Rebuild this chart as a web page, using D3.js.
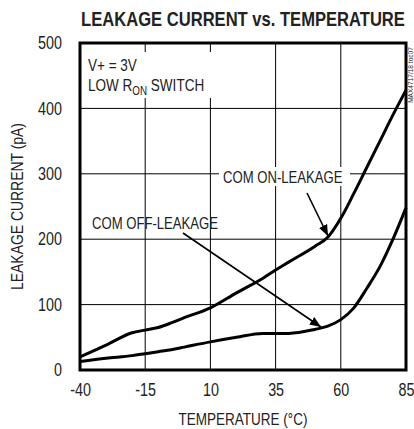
<!DOCTYPE html>
<html>
<head>
<meta charset="utf-8">
<script src="https://cdn.jsdelivr.net/npm/d3@7"></script>
<style>
  body { margin: 0; background: #fff; }
  svg text { font-family: 'Liberation Sans', Arial, sans-serif; fill: #222; }
</style>
</head>
<body>
<div id="chart"></div>
<script>
// data
var temps = [-40, -30, -20, -15, -10, -5, 0, 10, 20, 30, 35, 40, 50, 55, 60, 65, 70, 75, 80, 85];
var onLeak = [20, 38, 57, 61, 65, 72, 80, 95, 118, 140, 153, 165, 189, 203, 232, 270, 310, 350, 390, 428];
var offLeak = [13, 18, 22, 25, 28, 31, 35, 43, 50, 56, 56, 56, 62, 67, 77, 95, 125, 158, 200, 248];
var xTicks = [-40, -15, 10, 35, 60, 85];
var yTicks = [0, 100, 200, 300, 400, 500];

var margin = {top: 43, right: 8, bottom: 59, left: 80},
    width = 414 - margin.left - margin.right,
    height = 429 - margin.top - margin.bottom;

var NARROW = 0.82; // no condensed font installed, squeeze Liberation Sans instead

var svg = d3.select("#chart")
  .append("svg")
    .attr("width", 414)
    .attr("height", 429)
  .append("g")
    .attr("transform", "translate(" + margin.left + "," + margin.top + ")");

// text squeezed horizontally so it looks like a condensed face
function narrowText(px, py, size, str) {
  return svg.append("text")
    .attr("transform", "translate(" + px + "," + py + ") scale(" + NARROW + ",1)")
    .style("font-size", size + "px")
    .text(str);
}

var x = d3.scaleLinear().domain([-40, 85]).range([0, width]);
var y = d3.scaleLinear().domain([0, 500]).range([height, 0]);

// grid
svg.selectAll(".vgrid")
  .data(xTicks)
  .enter().append("line")
    .attr("x1", d => x(d)).attr("x2", d => x(d))
    .attr("y1", 0).attr("y2", height)
    .attr("stroke", "#000").attr("stroke-width", 1);
svg.selectAll(".hgrid")
  .data(yTicks)
  .enter().append("line")
    .attr("y1", d => y(d)).attr("y2", d => y(d))
    .attr("x1", 0).attr("x2", width)
    .attr("stroke", "#000").attr("stroke-width", 1);

// white label boxes covering the grid
svg.append("rect").attr("x", 3).attr("y", 9).attr("width", 128).attr("height", 46).attr("fill", "#fff");
svg.append("rect").attr("x", 139).attr("y", 124).attr("width", 131).attr("height", 19).attr("fill", "#fff");

// axes
var xAxis = svg.append("g")
  .attr("transform", "translate(0," + height + ")")
  .call(d3.axisBottom(x).tickValues(xTicks).tickSize(0).tickPadding(14).tickFormat(d => String(d)));
var yAxis = svg.append("g")
  .call(d3.axisLeft(y).tickValues(yTicks).tickSize(0).tickPadding(18).tickFormat(d => String(d)));
xAxis.select(".domain").remove();
yAxis.select(".domain").remove();
xAxis.selectAll(".tick text")
  .attr("transform", "scale(" + NARROW + ",1)");
yAxis.selectAll(".tick text")
  .attr("x", 0)
  .attr("transform", "translate(-18,0) scale(" + NARROW + ",1)");
svg.selectAll(".tick text").style("font-size", "17.5px").attr("fill", "#222")
  .style("font-family", "'Liberation Sans', Arial, sans-serif");

// frame
svg.append("rect")
  .attr("width", width).attr("height", height)
  .attr("fill", "none").attr("stroke", "#000").attr("stroke-width", 3);

// curves
var line = d3.line().curve(d3.curveMonotoneX);
svg.append("path")
  .attr("d", line(temps.map((t, i) => [x(t), y(onLeak[i])])))
  .attr("fill", "none").attr("stroke", "#000").attr("stroke-width", 3);
svg.append("path")
  .attr("d", line(temps.map((t, i) => [x(t), y(offLeak[i])])))
  .attr("fill", "none").attr("stroke", "#000").attr("stroke-width", 3);

// arrows
svg.append("defs").append("marker")
  .attr("id", "arr").attr("viewBox", "0 0 10 10")
  .attr("refX", 10).attr("refY", 5)
  .attr("markerWidth", 7).attr("markerHeight", 7)
  .attr("markerUnits", "strokeWidth")
  .attr("orient", "auto")
  .append("path").attr("d", "M0,1 L10,5 L0,9 z").attr("fill", "#000");

svg.append("line")
  .attr("x1", 227).attr("y1", 150).attr("x2", 248).attr("y2", 193)
  .attr("stroke", "#000").attr("stroke-width", 1.6).attr("marker-end", "url(#arr)");
svg.append("line")
  .attr("x1", 103).attr("y1", 190).attr("x2", 241).attr("y2", 284)
  .attr("stroke", "#000").attr("stroke-width", 1.6).attr("marker-end", "url(#arr)");

// labels
narrowText(8, 28, 16.5, "V+ = 3V");
var t2 = narrowText(8, 48, 16.5, "LOW R");
t2.append("tspan").attr("dy", 4).style("font-size", "12px").text("ON");
t2.append("tspan").attr("dy", -4).text(" SWITCH");

narrowText(143, 140, 16, "COM ON-LEAKAGE");
narrowText(12, 186, 16, "COM OFF-LEAKAGE");

// title: squeeze to the plot width
var title = svg.append("text")
  .style("font-size", "21px").style("font-weight", "bold").attr("fill", "#000")
  .attr("text-anchor", "middle")
  .text("LEAKAGE CURRENT vs. TEMPERATURE");
var tw = title.node().getComputedTextLength();
title.attr("transform", "translate(" + (width / 2) + ",-17) scale(" + Math.min(1, 324 / tw) + ",1)");

narrowText(width / 2, height + 55, 16.5, "TEMPERATURE (°C)")
  .attr("text-anchor", "middle");

svg.append("text")
  .attr("transform", "translate(-57," + (height / 2) + ") rotate(-90) scale(" + NARROW + ",1)")
  .attr("text-anchor", "middle").style("font-size", "17px")
  .text("LEAKAGE CURRENT (pA)");

svg.append("text")
  .attr("transform", "translate(" + (width + 7) + ",32) rotate(-90) scale(" + NARROW + ",1)")
  .attr("text-anchor", "middle").style("font-size", "8px").attr("fill", "#666")
  .text("MAX4717/18 toc07");
</script>
</body>
</html>
